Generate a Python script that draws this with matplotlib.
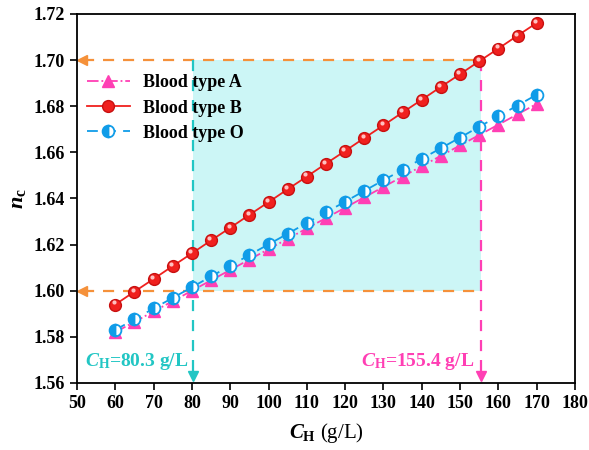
import matplotlib
matplotlib.use("Agg")
import matplotlib.pyplot as plt
import matplotlib.transforms as mtransforms

plt.rcParams['font.family'] = ['Liberation Serif', 'DejaVu Serif']
plt.rcParams['font.weight'] = 'bold'
plt.rcParams['mathtext.fontset'] = 'custom'
plt.rcParams['mathtext.rm'] = 'Liberation Serif:bold'
plt.rcParams['mathtext.it'] = 'Liberation Serif:italic:bold'
plt.rcParams['mathtext.bf'] = 'Liberation Serif:bold'

# ---- data ----
conc = [60, 65, 70, 75, 80, 85, 90, 95, 100, 105, 110, 115, 120, 125, 130,
        135, 140, 145, 150, 155, 160, 165, 170]
n_A = [1.5820, 1.5865, 1.5910, 1.5955, 1.6000, 1.6045, 1.6090, 1.6135, 1.6180,
       1.6225, 1.6270, 1.6315, 1.6360, 1.6405, 1.6450, 1.6495, 1.6540, 1.6585,
       1.6630, 1.6675, 1.6720, 1.6765, 1.6810]
n_B = [1.5940, 1.5996, 1.6051, 1.6107, 1.6162, 1.6218, 1.6273, 1.6329, 1.6384,
       1.6440, 1.6495, 1.6551, 1.6606, 1.6662, 1.6717, 1.6773, 1.6828, 1.6884,
       1.6939, 1.6995, 1.7050, 1.7106, 1.7161]
n_O = [1.5830, 1.5876, 1.5923, 1.5969, 1.6015, 1.6062, 1.6108, 1.6155, 1.6201,
       1.6247, 1.6294, 1.6340, 1.6386, 1.6433, 1.6479, 1.6525, 1.6572, 1.6618,
       1.6664, 1.6711, 1.6757, 1.6803, 1.6850]
c_low, c_high = 80.3, 155.4
n_low, n_high = 1.60, 1.70
labels = ['Blood type A', 'Blood type B', 'Blood type O']
xticks = list(range(50, 181, 10))
yticks = [1.56, 1.58, 1.60, 1.62, 1.64, 1.66, 1.68, 1.70, 1.72]

pink = '#ff3fb4'
red = '#f0201e'
blue = '#109ce8'
orange = '#f5913a'
teal = '#22c6c4'
shade = '#ccf6f6'

fig = plt.figure(figsize=(5.89, 4.50), dpi=100)
ax = fig.add_axes([0.1307, 0.149, 0.8455, 0.820])
ax.set_xlim(50, 180)
ax.set_ylim(1.56, 1.72)

# shaded region
ax.fill_between([c_low, c_high], n_low, n_high, color=shade, zorder=0, lw=0)

# guide lines
ax.plot([51.5, c_high], [n_high, n_high], ls=(0, (5, 4)), color=orange, lw=1.6, zorder=1)
ax.plot([51.5, c_high], [n_low, n_low], ls=(0, (5, 4)), color=orange, lw=1.6, zorder=1)
ax.plot([51.3], [n_high], marker='<', color=orange, ms=7, zorder=2, clip_on=False)
ax.plot([51.3], [n_low], marker='<', color=orange, ms=7, zorder=2, clip_on=False)
ax.plot([c_low, c_low], [n_high, 1.562], ls=(0, (5, 4)), color=teal, lw=1.6, zorder=1)
ax.plot([c_high, c_high], [n_high, 1.562], ls=(0, (5, 4)), color=pink, lw=1.6, zorder=1)
ax.plot([c_low], [1.5628], marker='v', color=teal, ms=6.5, zorder=2, clip_on=False)
ax.plot([c_high], [1.5628], marker='v', color=pink, ms=6.5, zorder=2, clip_on=False)

# series
ax.plot(conc, n_A, ls='-.', color=pink, lw=1.3, marker='^', ms=8.5,
        mfc=pink, mec=pink, label=labels[0], zorder=3)
ax.plot(conc, n_B, ls='-', color=red, lw=1.3, marker='o', ms=8.5,
        mfc=red, mec='#c81010', label=labels[1], zorder=4)
hl = mtransforms.offset_copy(ax.transData, fig=fig, x=-1.2, y=1.5, units='points')
ax.plot(conc, n_B, ls='none', marker='o', ms=3.0, mfc='#ffc0c0', mec='none',
        transform=hl, zorder=5)
ax.plot(conc, n_O, ls=(0, (6, 4)), color=blue, lw=1.3, marker='o', ms=8.5,
        fillstyle='left', mfc=blue, mfcalt='white', mec=blue, mew=1.3,
        label=labels[2], zorder=6)

# annotations
ax.text(52.1, 1.5691, r'$C_\mathrm{H}$=80.3 g/L', color=teal, fontsize=14,
        fontweight='bold', va='center', ha='left')
ax.text(153.8, 1.5691, r'$C_\mathrm{H}$=155.4 g/L', color=pink, fontsize=14,
        fontweight='bold', va='center', ha='right')

ax.set_xticks(xticks)
ax.set_yticks(yticks)
ax.set_xticklabels([str(t) for t in xticks])
ax.set_yticklabels([f'{t:.2f}' for t in yticks])
ax.tick_params(axis='both', direction='out', length=5, width=1.2, labelsize=13)
for lab in ax.get_xticklabels() + ax.get_yticklabels():
    lab.set_fontweight('bold')
for sp in ax.spines.values():
    sp.set_linewidth(1.3)

ax.set_xlabel(r'$C_\mathrm{H}$' + ' (g/L)', fontsize=15, fontweight='normal', labelpad=7)
ax.set_ylabel(r'$n_\mathrm{c}$', fontsize=16, labelpad=4)

leg = ax.legend(loc='center left', bbox_to_anchor=(0.005, 0.745), frameon=False,
                handlelength=2.4, handletextpad=0.7, borderaxespad=0.0,
                labelspacing=0.45, prop={'weight': 'bold', 'size': 13})

fig.savefig('out.png', dpi=100)
